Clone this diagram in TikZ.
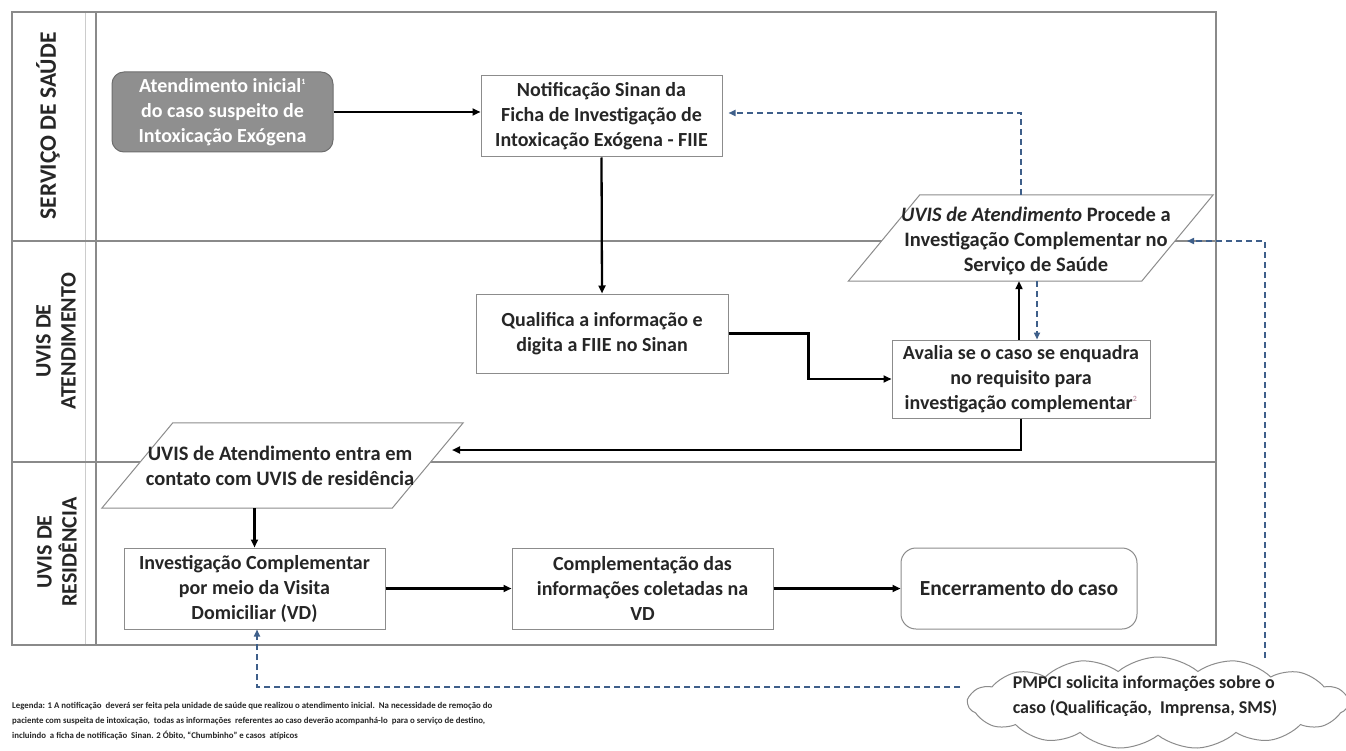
\documentclass[tikz,border=0pt]{standalone}
\usepackage{fontspec}
\setmainfont{Carlito}
\usetikzlibrary{shapes.symbols,arrows.meta}
\definecolor{framegray}{HTML}{8A8A8A}
\definecolor{boxgray}{HTML}{8C8C8C}
\definecolor{txtc}{HTML}{262626}
\definecolor{dashblue}{HTML}{3E5F8A}
\definecolor{atfill}{HTML}{8F8F8F}
\definecolor{atdraw}{HTML}{6E6E6E}
\definecolor{supc}{HTML}{C9A0B0}
\begin{document}
\begin{tikzpicture}[x=1pt,y=-1pt,
 frame/.style={draw=framegray,line width=1.3pt},
 box/.style={draw=boxgray,line width=1pt,fill=white,align=center,text=txtc,inner sep=0pt,font=\bfseries\fontsize{20}{25}\selectfont},
 ptext/.style={align=center,text=txtc,inner sep=0pt,font=\bfseries\fontsize{20.5}{25}\selectfont},
 pbox/.style={draw=boxgray,line width=1pt,fill=white},
 arr/.style={draw=black,line width=2.3pt,-{Triangle[length=8pt,width=7pt]}},
 darr/.style={draw=dashblue,line width=1.6pt,dash pattern=on 6pt off 4pt,-{Triangle[length=7pt,width=6pt]}},
 lane/.style={rotate=90,align=center,text=txtc,inner sep=0pt,font=\bfseries\fontsize{22}{25}\selectfont},
]
\useasboundingbox (0,0) rectangle (1346,751);
\fill[white] (0,0) rectangle (1346,751);
% frame and lanes
\draw[draw=black!20,line width=0.8pt] (85,12) -- (85,645);
\draw[frame] (12,12) rectangle (1216,645);
\draw[frame] (96,12) -- (96,645);
\draw[frame] (12,241) -- (1216,241);
\draw[frame] (12,462) -- (1216,462);
\node[lane, font=\bfseries\fontsize{23.5}{25}\selectfont] (l1) at (48,126) {SERVIÇO DE SAÚDE};
\node[lane] (l2) at (56,341) {UVIS DE\\ATENDIMENTO};
\node[lane] (l3) at (57,552) {UVIS DE\\RESIDÊNCIA};
% nodes
\node[box, rounded corners=12pt, fill=atfill, draw=atdraw, text=white, minimum width=221, minimum height=80] (aten) at (222.5,112) {Atendimento inicial\textsuperscript{\fontsize{8}{8}\selectfont 1}\\do caso suspeito de\\Intoxicação Exógena};
\node[box, minimum width=241, minimum height=81] (notif) at (601.5,116.5) {Notificação Sinan da\\Ficha de Investigação de\\Intoxicação Exógena - FIIE};
\node[box, minimum width=252, minimum height=79] (qual) at (602,333.5) {Qualifica a informação e\\digita a FIIE no Sinan};
\node[box, minimum width=258, minimum height=78] (aval) at (1021,379) {Avalia se o caso se enquadra\\no requisito para\\investigação complementar\textsuperscript{\color{supc}\fontsize{8}{8}\selectfont 2}};
% parallelogram 1
\node[minimum width=293, minimum height=86, inner sep=0pt] (proc) at (1030.75,238) {};
\draw[pbox] ([xshift=35.75pt]proc.north west) -- ([xshift=35.75pt]proc.north east) -- ([xshift=-35.75pt]proc.south east) -- ([xshift=-35.75pt]proc.south west) -- cycle;
\node[ptext] (procT) at (1036,241) {\textit{UVIS de Atendimento} Procede a\\Investigação Complementar no\\Serviço de Saúde};
% parallelogram 2
\node[minimum width=290, minimum height=85, inner sep=0pt] (entra) at (282.5,465.5) {};
\draw[pbox] ([xshift=35.5pt]entra.north west) -- ([xshift=35.5pt]entra.north east) -- ([xshift=-35.5pt]entra.south east) -- ([xshift=-35.5pt]entra.south west) -- cycle;
\node[ptext] (entraT) at (280,465.5) {UVIS de Atendimento entra em\\contato com UVIS de residência};
% bottom lane
\node[box, minimum width=261, minimum height=81] (inv) at (254.5,588.5) {Investigação Complementar\\por meio da Visita\\Domiciliar (VD)};
\node[box, minimum width=261, minimum height=81] (comp) at (642.5,588.5) {Complementação das\\informações coletadas na\\VD};
\node[box, rounded corners=15pt, minimum width=236, minimum height=81, font=\bfseries\fontsize{21.5}{25}\selectfont] (enc) at (1019,588.5) {Encerramento do caso};
% cloud
\node[cloud, cloud puffs=15, cloud puff arc=80, cloud ignores aspect, draw=boxgray, line width=1pt, fill=white, minimum width=380, minimum height=92] (cloud) at (1158,703) {};
\node[align=left, inner sep=0pt, text=txtc, font=\bfseries\fontsize{18}{25}\selectfont] (cloudT) at (1145,696) {PMPCI solicita informações sobre o\\caso (Qualificação,\ \ Imprensa, SMS)};
% legend
\node[anchor=north west, align=left, inner sep=0pt, text=txtc, font=\bfseries\fontsize{8.8}{15}\selectfont] (leg) at (12,702) {Legenda: 1 A notificação\ \ deverá ser feita pela unidade de saúde que realizou o atendimento inicial.\ \ Na necessidade de remoção do\\paciente com suspeita de intoxicação,\ \ todas as informações\ \ referentes ao caso deverão acompanhá-lo\ \ para o serviço de destino,\\incluindo\ \ a ficha de notificação\ \ Sinan. 2 Óbito, ``Chumbinho'' e casos\ \ atípicos};
% solid connectors
\draw[arr] (aten.east) -- (aten.east -| notif.west);
\draw[arr] (notif.south) -- (qual.north);
\draw[arr] (qual.east) -- ++(80,0) |- (aval.west);
\draw[arr] ([xshift=-2pt]aval.north) -- ([xshift=-2pt]aval.north |- proc.south);
\coordinate (entraR) at (452,450);
\draw[arr] (aval.south) |- (entraR);
\draw[arr] (inv.north |- entra.south) -- (inv.north);
\draw[arr] (inv.east) -- (comp.west);
\draw[arr] (comp.east) -- (enc.west);
% dashed connectors
\draw[darr] ([xshift=16pt]aval.north |- proc.south) -- ([xshift=16pt]aval.north);
\draw[darr] ([xshift=-9.75pt]proc.north) |- ([xshift=6pt,yshift=3.5pt]notif.east);
\coordinate (cloudTop) at (1265,658);
\coordinate (procR) at (1187,241);
\draw[darr] (cloudTop) |- (procR);
\coordinate (cloudL) at (960,687);
\draw[darr] (cloudL) -| ([xshift=2.5pt]inv.south);
\end{tikzpicture}
\end{document}
